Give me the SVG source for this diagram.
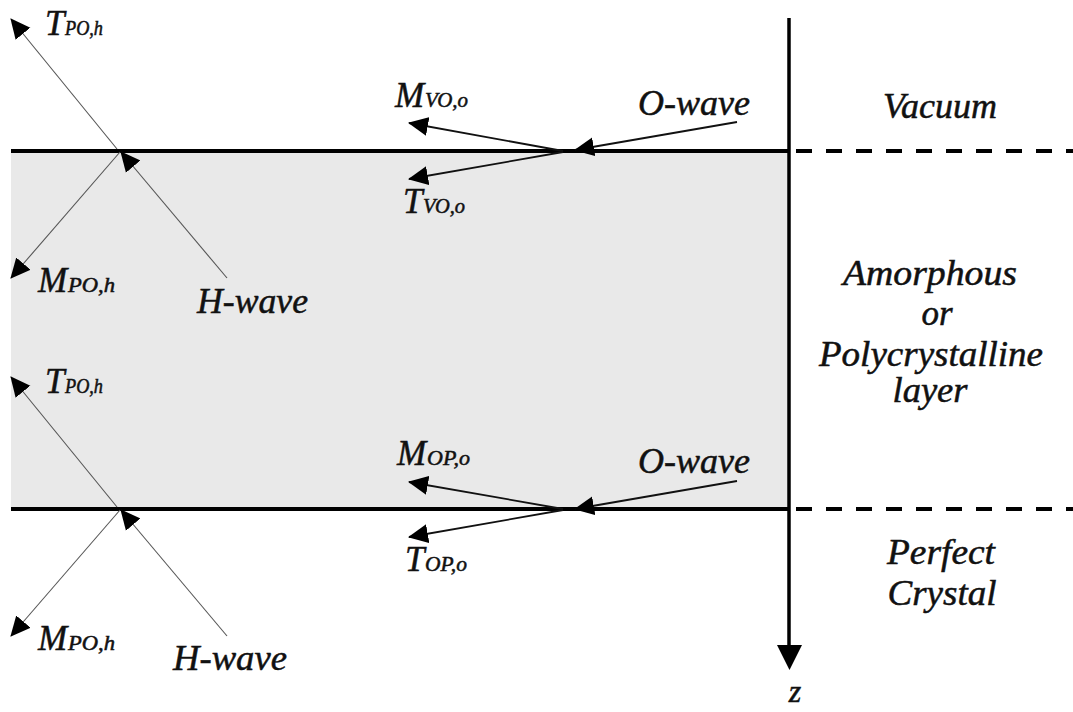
<svg xmlns="http://www.w3.org/2000/svg" width="1073" height="712" viewBox="0 0 1073 712">
<style>
.lbl{font-family:"Liberation Serif","Times New Roman",serif;font-style:italic;fill:#111;stroke:#111;stroke-width:0.5}
.big{font-size:35px}
.sub{font-size:20px}
.reg{font-size:35px;text-anchor:middle}
.thin{stroke:#555;stroke-width:1.1;fill:none}
.ray{stroke:#111;stroke-width:1.8;fill:none}
</style>
<defs>
<marker id="ah" viewBox="0 -10 20 20" markerWidth="20" markerHeight="20" refX="19" refY="0" orient="auto" markerUnits="userSpaceOnUse">
<path d="M0,-9.5 L20,0 L0,9.5 z" fill="#000"/>
</marker>
</defs>
<rect width="1073" height="712" fill="#fff"/>
<g id="layer">
<rect x="11" y="151" width="778" height="358" fill="#e9e9e9"/>
</g>
<g id="interfaces">
<line x1="11" y1="151" x2="789" y2="151" stroke="#000" stroke-width="4"/>
<line x1="11" y1="509" x2="789" y2="509" stroke="#000" stroke-width="4"/>
<line x1="796" y1="151" x2="1073" y2="151" stroke="#000" stroke-width="4" stroke-dasharray="16 14"/>
<line x1="796" y1="509" x2="1073" y2="509" stroke="#000" stroke-width="4" stroke-dasharray="16 14"/>
</g>
<g id="axis">
<line x1="789" y1="18" x2="789" y2="648" stroke="#000" stroke-width="3.5"/>
<polygon points="777,645 802,645 789.5,670" fill="#000"/>
<text class="lbl" x="795" y="702" font-size="32" text-anchor="middle">z</text>
</g>
<g id="connectors">
<line class="thin" x1="117" y1="149" x2="11" y2="19" marker-end="url(#ah)"/>
<line class="thin" x1="120" y1="152" x2="11" y2="278" marker-end="url(#ah)"/>
<line class="thin" x1="227" y1="278" x2="121" y2="152" marker-end="url(#ah)"/>
<line class="ray" x1="737" y1="122" x2="575" y2="150" marker-end="url(#ah)"/>
<line class="ray" x1="563" y1="151" x2="409" y2="123" marker-end="url(#ah)"/>
<line class="ray" x1="563" y1="152" x2="409" y2="179" marker-end="url(#ah)"/>
<line class="thin" x1="117" y1="507" x2="11" y2="377" marker-end="url(#ah)"/>
<line class="thin" x1="120" y1="510" x2="11" y2="636" marker-end="url(#ah)"/>
<line class="thin" x1="227" y1="636" x2="121" y2="510" marker-end="url(#ah)"/>
<line class="ray" x1="737" y1="481" x2="575" y2="509" marker-end="url(#ah)"/>
<line class="ray" x1="563" y1="509" x2="409" y2="482" marker-end="url(#ah)"/>
<line class="ray" x1="563" y1="510" x2="409" y2="537" marker-end="url(#ah)"/>
</g>
<g id="labels-top">
<text class="lbl big" x="45" y="35">T</text><text class="lbl sub" x="65" y="35" textLength="38" lengthAdjust="spacingAndGlyphs">PO,h</text>
<text class="lbl big" x="38" y="292">M</text><text class="lbl sub" x="68" y="292" textLength="47" lengthAdjust="spacingAndGlyphs">PO,h</text>
<text class="lbl big" x="197" y="313" textLength="111" lengthAdjust="spacingAndGlyphs">H-wave</text>
<text class="lbl big" x="395" y="107">M</text><text class="lbl sub" x="425" y="107" textLength="43" lengthAdjust="spacingAndGlyphs">VO,o</text>
<text class="lbl big" x="403" y="213">T</text><text class="lbl sub" x="423" y="213" textLength="42" lengthAdjust="spacingAndGlyphs">VO,o</text>
<text class="lbl big" x="638" y="115" textLength="112" lengthAdjust="spacingAndGlyphs">O-wave</text>
</g>
<g id="labels-bottom">
<text class="lbl big" x="45" y="393">T</text><text class="lbl sub" x="65" y="393" textLength="38" lengthAdjust="spacingAndGlyphs">PO,h</text>
<text class="lbl big" x="38" y="650">M</text><text class="lbl sub" x="68" y="650" textLength="47" lengthAdjust="spacingAndGlyphs">PO,h</text>
<text class="lbl big" x="173" y="670" textLength="114" lengthAdjust="spacingAndGlyphs">H-wave</text>
<text class="lbl big" x="397" y="465">M</text><text class="lbl sub" x="427" y="465" textLength="43" lengthAdjust="spacingAndGlyphs">OP,o</text>
<text class="lbl big" x="405" y="571">T</text><text class="lbl sub" x="425" y="571" textLength="42" lengthAdjust="spacingAndGlyphs">OP,o</text>
<text class="lbl big" x="638" y="473" textLength="112" lengthAdjust="spacingAndGlyphs">O-wave</text>
</g>
<g id="region-labels">
<text class="lbl reg" x="940" y="118" textLength="114" lengthAdjust="spacingAndGlyphs">Vacuum</text>
<text class="lbl reg" x="930" y="285" textLength="174" lengthAdjust="spacingAndGlyphs">Amorphous</text>
<text class="lbl reg" x="937" y="325">or</text>
<text class="lbl reg" x="931" y="366" textLength="224" lengthAdjust="spacingAndGlyphs">Polycrystalline</text>
<text class="lbl reg" x="930" y="402" textLength="75" lengthAdjust="spacingAndGlyphs">layer</text>
<text class="lbl reg" x="941" y="564" textLength="108" lengthAdjust="spacingAndGlyphs">Perfect</text>
<text class="lbl reg" x="942" y="605" textLength="109" lengthAdjust="spacingAndGlyphs">Crystal</text>
</g>
</svg>
